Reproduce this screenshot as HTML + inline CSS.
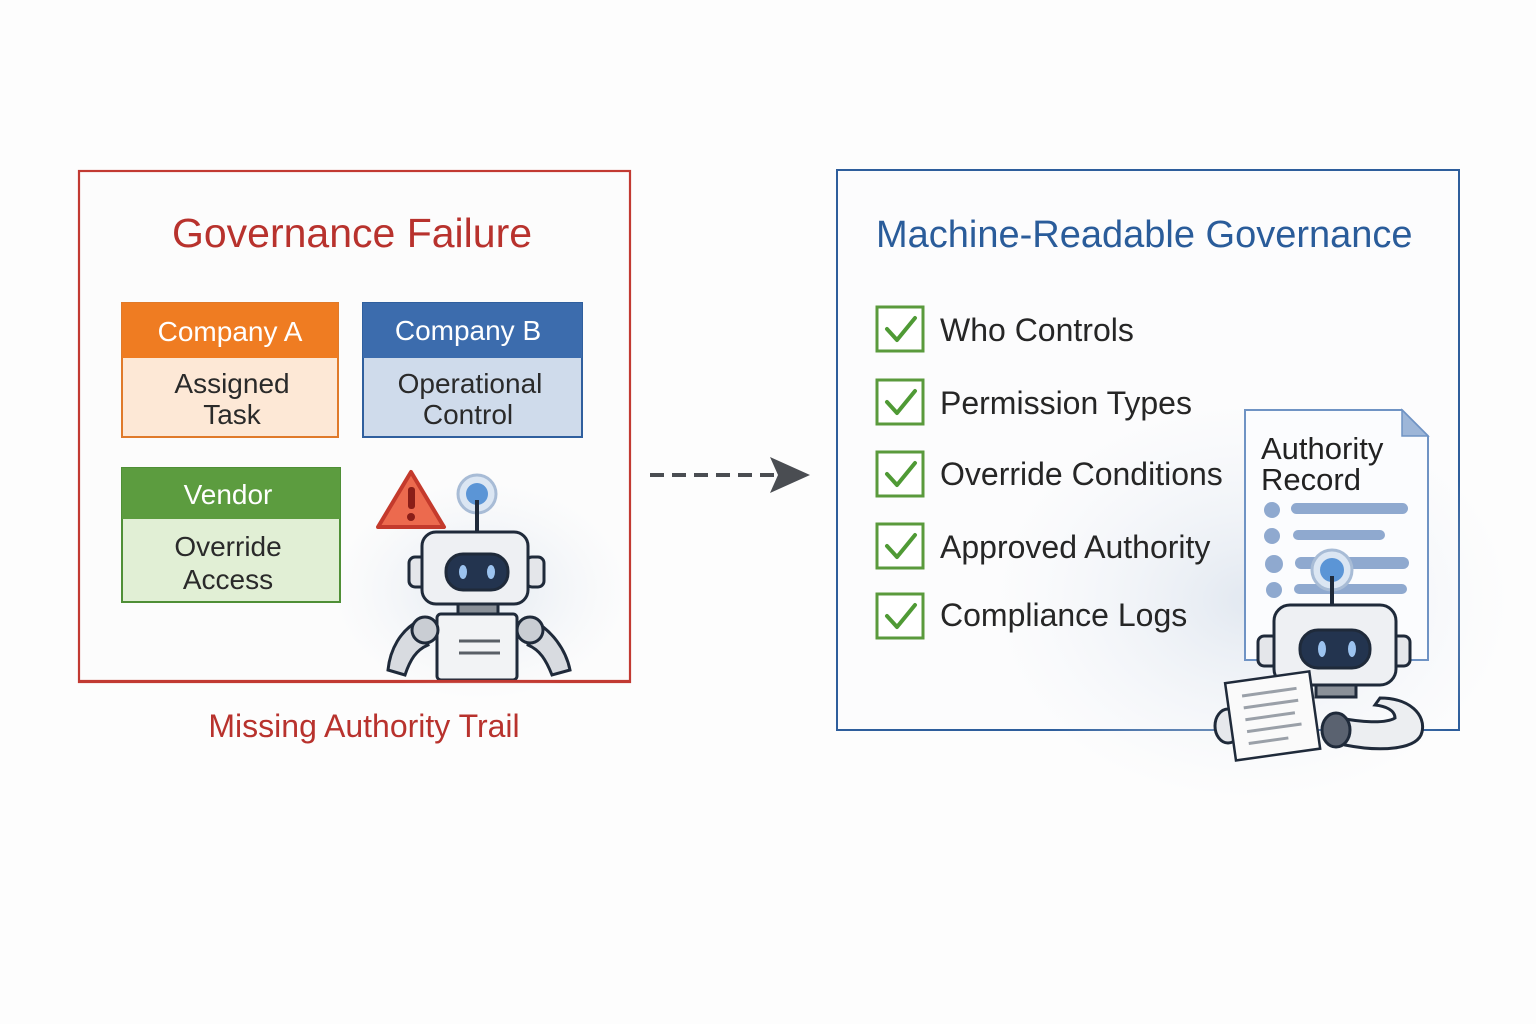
<!DOCTYPE html>
<html><head><meta charset="utf-8"><style>
html,body{margin:0;padding:0;background:#fdfdfd;}
svg{display:block;font-family:"Liberation Sans","DejaVu Sans",sans-serif;}
</style></head><body>
<svg width="1536" height="1024" viewBox="0 0 1536 1024" xmlns="http://www.w3.org/2000/svg">
<defs>
<radialGradient id="haze" cx="50%" cy="50%" r="50%">
<stop offset="0" stop-color="#dfe6ef" stop-opacity="0.9"/><stop offset="1" stop-color="#eef2f7" stop-opacity="0"/>
</radialGradient>
</defs>
<rect width="1536" height="1024" fill="#fdfdfd"/>

<!-- LEFT FRAME -->
<rect x="79" y="171" width="551" height="511" fill="#fcfcfc" stroke="#c23a32" stroke-width="2.2"/>
<ellipse cx="480" cy="590" rx="150" ry="110" fill="url(#haze)"/>
<text x="352" y="247" font-size="41" fill="#b8322d" text-anchor="middle">Governance Failure</text>

<rect x="122" y="303" width="216" height="134" fill="#fde8d6" stroke="#e07a2a" stroke-width="2"/>
<rect x="122" y="303" width="216" height="55" fill="#ef7c22"/>
<text x="230" y="341" font-size="28" fill="#fff" text-anchor="middle">Company A</text>
<text x="232" y="393" font-size="28" fill="#2a2a2a" text-anchor="middle">Assigned</text>
<text x="232" y="424" font-size="28" fill="#2a2a2a" text-anchor="middle">Task</text>

<rect x="363" y="303" width="219" height="134" fill="#cfdbeb" stroke="#2f5f9e" stroke-width="2"/>
<rect x="363" y="303" width="219" height="55" fill="#3c6cad"/>
<text x="468" y="340" font-size="28" fill="#fff" text-anchor="middle">Company B</text>
<text x="470" y="393" font-size="28" fill="#2a2a2a" text-anchor="middle">Operational</text>
<text x="468" y="424" font-size="28" fill="#2a2a2a" text-anchor="middle">Control</text>

<rect x="122" y="468" width="218" height="134" fill="#e1efd5" stroke="#4f8f36" stroke-width="2"/>
<rect x="122" y="468" width="218" height="51" fill="#5c9c3f"/>
<text x="228" y="504" font-size="28" fill="#fff" text-anchor="middle">Vendor</text>
<text x="228" y="556" font-size="28" fill="#2a2a2a" text-anchor="middle">Override</text>
<text x="228" y="589" font-size="28" fill="#2a2a2a" text-anchor="middle">Access</text>

<!-- warning -->
<path d="M411 472 L444 527 L378 527 Z" fill="#ec6a4e" stroke="#c43a2c" stroke-width="4" stroke-linejoin="round"/>
<rect x="408" y="487" width="7" height="22" rx="3" fill="#8a1e18"/>
<circle cx="411" cy="517" r="4" fill="#8a1e18"/>

<!-- robot 1 -->
<g stroke="#1f2a3a" stroke-width="3">
<circle cx="477" cy="494" r="19" fill="#dbe6f3" stroke="#a8bcd6"/>
<circle cx="477" cy="494" r="11" fill="#5b95d6" stroke="none"/>
<line x1="477" y1="500" x2="477" y2="532" stroke-width="4"/>
<rect x="409" y="557" width="18" height="30" rx="6" fill="#e4e6ea"/>
<rect x="526" y="557" width="18" height="30" rx="6" fill="#e4e6ea"/>
<rect x="422" y="532" width="106" height="72" rx="14" fill="#eef0f3"/>
<rect x="446" y="554" width="62" height="36" rx="17" fill="#23344f"/>
<rect x="458" y="604" width="40" height="12" fill="#8a9098"/>
<rect x="437" y="614" width="80" height="66" rx="4" fill="#f2f3f5"/>
<path d="M420 620 C400 630 390 650 388 670 L405 675 C410 660 416 650 428 645 Z" fill="#d8dbe0"/>
<path d="M532 620 C552 630 566 650 570 670 L552 675 C546 660 540 650 528 645 Z" fill="#d8dbe0"/>
<circle cx="425" cy="630" r="13" fill="#c9cdd3"/>
<circle cx="530" cy="630" r="13" fill="#c9cdd3"/>
</g>
<ellipse cx="463" cy="572" rx="4" ry="7" fill="#9cc3ef"/>
<ellipse cx="491" cy="572" rx="4" ry="7" fill="#9cc3ef"/>
<line x1="459" y1="641" x2="500" y2="641" stroke="#5a5f66" stroke-width="3"/>
<line x1="459" y1="653" x2="500" y2="653" stroke="#5a5f66" stroke-width="3"/>
<line x1="79" y1="681" x2="630" y2="681" stroke="#c23a32" stroke-width="2.2"/>

<text x="364" y="737" font-size="32" fill="#b8322d" text-anchor="middle">Missing Authority Trail</text>

<!-- arrow -->
<line x1="650" y1="475" x2="790" y2="475" stroke="#4a4d52" stroke-width="4" stroke-dasharray="14,8"/>
<path d="M770 457 L810 475 L770 493 L778 475 Z" fill="#4a4d52"/>

<!-- RIGHT FRAME -->
<rect x="837" y="170" width="622" height="560" fill="#fcfcfd" stroke="#2e5e9c" stroke-width="2"/>
<ellipse cx="1250" cy="600" rx="260" ry="200" fill="url(#haze)"/>
<text x="876" y="247" font-size="38" fill="#2a5c9a">Machine-Readable Governance</text>

<g stroke="#5a9a3c" stroke-width="3" fill="#fff">
<rect x="877" y="307" width="46" height="44"/>
<rect x="877" y="380" width="46" height="44"/>
<rect x="877" y="452" width="46" height="44"/>
<rect x="877" y="524" width="46" height="44"/>
<rect x="877" y="594" width="46" height="44"/>
</g>
<g stroke="#4f9a35" stroke-width="4" fill="none" stroke-linecap="round" stroke-linejoin="round">
<path d="M887 329 L897 340 L915 318"/>
<path d="M887 402 L897 413 L915 391"/>
<path d="M887 474 L897 485 L915 463"/>
<path d="M887 546 L897 557 L915 535"/>
<path d="M887 616 L897 627 L915 605"/>
</g>
<g font-size="32" fill="#262626">
<text x="940" y="341">Who Controls</text>
<text x="940" y="414">Permission Types</text>
<text x="940" y="485">Override Conditions</text>
<text x="940" y="558">Approved Authority</text>
<text x="940" y="626">Compliance Logs</text>
</g>

<!-- document -->
<path d="M1245 410 L1402 410 L1428 436 L1428 660 L1245 660 Z" fill="#fbfcfe" stroke="#6f93c4" stroke-width="2"/>
<path d="M1402 410 L1402 436 L1428 436 Z" fill="#9db6d8" stroke="#6f93c4" stroke-width="1.5"/>
<text x="1261" y="459" font-size="31" fill="#222">Authority</text>
<text x="1261" y="490" font-size="31" fill="#222">Record</text>
<g fill="#8fa9cf">
<circle cx="1272" cy="510" r="8"/><rect x="1291" y="503" width="117" height="11" rx="5.5"/>
<circle cx="1272" cy="536" r="8"/><rect x="1293" y="530" width="92" height="10" rx="5"/>
<circle cx="1274" cy="564" r="9"/><rect x="1295" y="557" width="114" height="12" rx="6"/>
<circle cx="1274" cy="590" r="8"/><rect x="1294" y="584" width="113" height="10" rx="5"/>
</g>

<!-- robot 2 -->
<g stroke="#1f2a3a" stroke-width="3">
<circle cx="1332" cy="570" r="20" fill="#dbe6f3" stroke="#a8bcd6"/>
<circle cx="1332" cy="570" r="12" fill="#5b95d6" stroke="none"/>
<line x1="1332" y1="576" x2="1332" y2="606" stroke-width="4"/>
<rect x="1258" y="636" width="20" height="30" rx="6" fill="#e4e6ea"/>
<rect x="1390" y="636" width="20" height="30" rx="6" fill="#e4e6ea"/>
<rect x="1274" y="605" width="122" height="80" rx="16" fill="#eef0f3"/>
<rect x="1300" y="630" width="70" height="38" rx="18" fill="#23344f"/>
<rect x="1316" y="685" width="40" height="12" fill="#8a9098"/>
<path d="M1380 698 C1410 698 1426 715 1422 732 C1418 750 1380 752 1345 745 L1340 718 C1360 722 1385 724 1395 718 C1395 710 1385 706 1375 705 Z" fill="#eceef1"/>
<ellipse cx="1336" cy="730" rx="14" ry="17" fill="#5a6270"/>
<ellipse cx="1228" cy="726" rx="13" ry="17" fill="#e6e8ec"/>
</g>
<g transform="rotate(-8 1272 715)">
<rect x="1230" y="677" width="85" height="78" fill="#fafafa" stroke="#1f2a3a" stroke-width="2.5"/>
<g stroke="#9aa0a8" stroke-width="3">
<line x1="1245" y1="692" x2="1300" y2="692"/><line x1="1245" y1="704" x2="1300" y2="704"/>
<line x1="1245" y1="716" x2="1295" y2="716"/><line x1="1245" y1="728" x2="1300" y2="728"/>
<line x1="1245" y1="740" x2="1285" y2="740"/>
</g>
</g>
<ellipse cx="1322" cy="649" rx="4" ry="8" fill="#9cc3ef"/>
<ellipse cx="1352" cy="649" rx="4" ry="8" fill="#9cc3ef"/>
</svg>
</body></html>
